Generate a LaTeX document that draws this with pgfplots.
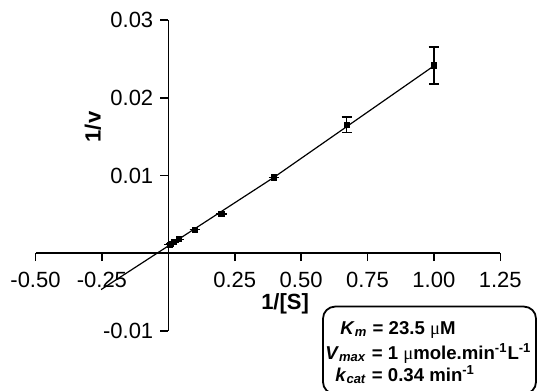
\documentclass[border=0pt]{standalone}
\usepackage{fontspec}
\setmainfont{Liberation Sans}
\newfontfamily\symf{Liberation Serif}
\usepackage{pgfplots}
\pgfplotsset{compat=1.18}
\usepackage{pgfplotstable}
\pgfplotstableread{
x y e
0.005 0.00112 0
0.01 0.00125 0
0.02 0.00145 0
0.04 0.0018 0
0.1 0.00304 0
0.2 0.00504 0
0.398 0.00975 0
0.672 0.0165 0.0010
1.0 0.02415 0.0024
}\datatab
\pgfplotstableread{
x y
-0.253 -0.00467
0.398 0.00977
1.0 0.0241
}\fittab
\begin{document}
\begin{tikzpicture}
\begin{axis}[
  at={(17.75pt,30pt)}, anchor=south west,
  scale only axis, width=232.4pt, height=155.5pt,
  xmin=-0.5, xmax=1.25, ymin=-0.01, ymax=0.03,
  axis lines=middle,
  axis line style={-, line width=0.8pt},
  tick align=outside,
  major tick length=4pt,
  tick style={black, line width=0.8pt},
  scaled y ticks=false, scaled x ticks=false,
  xtick={-0.5,-0.25,0.25,0.5,0.75,1,1.25},
  xticklabels={-0.50,-0.25,0.25,0.50,0.75,1.00,1.25},
  ytick={-0.01,0.01,0.02,0.03},
  yticklabels={-0.01,0.01,0.02,0.03},
  ticklabel style={font=\fontsize{11}{13}\selectfont},
  xticklabel style={yshift=-2pt},
  xlabel={\textbf{1/[S]}},
  xlabel style={at={(axis description cs:0.537,0.0875)}, anchor=center, font=\fontsize{11}{13}\selectfont},
  ylabel={\textbf{1/v}},
  ylabel style={at={(axis description cs:0.1237,0.656)}, anchor=center, rotate=90, font=\fontsize{11}{13}\selectfont},
  clip=false,
]
\addplot[black, line width=0.6pt] table[x=x,y=y]{\fittab};
\addplot[black, only marks, mark=square*, mark size=1.3pt,
  error bars/.cd, y dir=both, y explicit,
  error bar style={line width=0.7pt, black},
  error mark options={rotate=90, mark size=2.6pt, line width=0.7pt, black}]
  table[x=x,y=y,y error=e]{\datatab};
\end{axis}
\draw[line width=0.9pt, rounded corners=6pt] (161.5pt,-1.5pt) rectangle (268pt,42.2pt);
\begin{scope}[every node/.style={inner sep=0pt, font=\fontsize{9.3}{11}\selectfont\bfseries}]
\node[anchor=base west] at (170pt,28pt) {\textit{K}\textsubscript{\textit{m}} = 23.5 {\symf\mdseries μ}M};
\node[anchor=base west] at (162.5pt,15.5pt) {\textit{V}\textsubscript{\textit{max}} = 1 {\symf\mdseries μ}mole.min\textsuperscript{-1}L\textsuperscript{-1}};
\node[anchor=base west] at (167.5pt,4.65pt) {\textit{k}\textsubscript{\textit{cat}} = 0.34 min\textsuperscript{-1}};
\end{scope}
\pgfresetboundingbox
\path[use as bounding box] (0,0) rectangle (268.5pt,195.5pt);
\end{tikzpicture}
\end{document}
